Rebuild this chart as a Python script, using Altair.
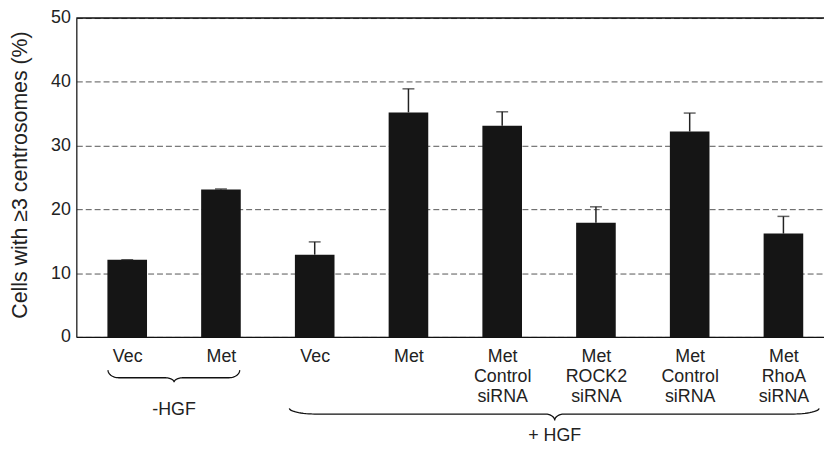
import json
import numpy as np
import pandas as pd
import altair as alt

# ---------------- data ----------------
positions = [0, 1, 2, 3, 4, 5, 6, 7]
label_lines = [
    ["Vec"], ["Met"], ["Vec"], ["Met"],
    ["Met", "Control", "siRNA"], ["Met", "ROCK2", "siRNA"],
    ["Met", "Control", "siRNA"], ["Met", "RhoA", "siRNA"],
]
values = [12.1, 23.1, 12.9, 35.2, 33.1, 17.9, 32.2, 16.2]
errors = [0.0, 0.1, 2.0, 3.7, 2.2, 2.5, 2.9, 2.7]
y_ticks = [0, 10, 20, 30, 40, 50]

group_names = ["-HGF", "+ HGF"]
group_mid = [0.5, 4.56]

FONT = "Liberation Sans"
FS = 18
Y_TITLE = "Cells with \u22653 centrosomes (%)"

df = pd.DataFrame({"pos": positions, "value": values, "err": errors})
df["upper"] = df["value"] + df["err"]

# ---------------- brace annotations (annotation geometry) ----------------
def brace(bid, xl, xr, xm, y_end, y_h, y_tip, r, r2, n=16):
    t = np.linspace(0, np.pi / 2, n)
    pts = []
    for ti in t:
        pts.append((xl + r * (1 - np.cos(ti)), y_end + (y_h - y_end) * np.sin(ti)))
    for ti in t:
        pts.append((xm - r2 + r2 * np.sin(ti), y_h + (y_tip - y_h) * (1 - np.cos(ti))))
    for ti in t[::-1]:
        pts.append((xm + r2 - r2 * np.sin(ti), y_h + (y_tip - y_h) * (1 - np.cos(ti))))
    for ti in t[::-1]:
        pts.append((xr - r * (1 - np.cos(ti)), y_end + (y_h - y_end) * np.sin(ti)))
    return pd.DataFrame({"bid": bid, "i": range(len(pts)),
                         "x": [p[0] for p in pts], "y": [p[1] for p in pts]})

braces = pd.concat([
    brace("a", -0.205, 1.2, group_mid[0], -5.2, -6.4, -7.1, 0.115, 0.1),
    brace("b", 1.73, 7.38, group_mid[1], -11.2, -12.1, -13.1, 0.3, 0.1),
])
group_df = pd.DataFrame({"x": group_mid, "y": [-11.4, -15.6], "name": group_names})

xscale = alt.Scale(domain=[-0.49, 7.38], nice=False, zero=False)
yscale = alt.Scale(domain=[0, 50], nice=False, zero=False)

label_expr = json.dumps(label_lines) + "[datum.value]"

xaxis = alt.Axis(
    values=positions, labelExpr=label_expr, grid=False, ticks=False, tickSize=0,
    labelFontSize=FS, labelLineHeight=20.5, labelPadding=10.5,
    labelColor="#222", domainColor="#111", domainWidth=1.2, labelFont=FONT,
    labelBaseline="top")
yaxis = alt.Axis(
    values=y_ticks, grid=True, gridDash=[6, 3], gridColor="#555", gridWidth=1,
    ticks=False, tickSize=0, labelPadding=6, labelFontSize=FS, labelColor="#222",
    labelFont=FONT, domainColor="#111", domainWidth=1.2,
    titleFontSize=21.5, titleFont=FONT, titleFontWeight="normal", titleColor="#222",
    titleAngle=-90, titleX=-50, titleY=158, titleBaseline="alphabetic",
    titleAlign="center")


def X(field):
    return alt.X(field, scale=xscale, axis=xaxis, title="")


def Y(field):
    return alt.Y(field, scale=yscale, axis=yaxis, title=Y_TITLE)


bars = alt.Chart(df).mark_bar(size=40, color="#151515").encode(
    x=X("pos:Q"), y=Y("value:Q"))

err_line = alt.Chart(df).mark_rule(color="#222", strokeWidth=1.5).encode(
    x=X("pos:Q"), y=Y("value:Q"), y2="upper:Q")

err_cap = alt.Chart(df).mark_tick(orient="horizontal", size=12, thickness=1.5,
                                   color="#222").encode(
    x=X("pos:Q"), y=Y("upper:Q"))

top_rule = alt.Chart(pd.DataFrame({"v": [y_ticks[-1]]})).mark_rule(
    color="#111", strokeWidth=1.5).encode(y=Y("v:Q"))

brace_lines = alt.Chart(braces).mark_line(color="#111", strokeWidth=1.3,
                                          clip=False).encode(
    x=X("x:Q"), y=Y("y:Q"), detail="bid:N", order="i:Q")

brace_text = alt.Chart(group_df).mark_text(fontSize=FS, font=FONT, color="#222",
                                           baseline="middle", clip=False).encode(
    x=X("x:Q"), y=Y("y:Q"), text="name:N")

chart = alt.layer(bars, err_line, err_cap, top_rule, brace_lines, brace_text).properties(
    width=755, height=322,
    autosize=alt.AutoSizeParams(type="none"),
    padding={"left": 69, "top": 8, "right": 0, "bottom": 107},
).configure_view(stroke=None).configure(font=FONT, background="white")

chart.save("out.html", embed_options={"renderer": "svg", "actions": False})
